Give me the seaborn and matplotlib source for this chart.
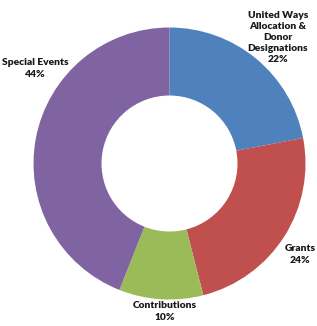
import matplotlib
matplotlib.use("Agg")
import matplotlib.pyplot as plt
import seaborn as sns

categories = ["United Ways\nAllocation &\nDonor\nDesignations", "Grants", "Contributions", "Special Events"]
values = [22, 24, 10, 44]
colors = ["#4F81BD", "#C0504D", "#9BBB59", "#8064A2"]

sns.set_theme(style="white")
plt.rcParams['font.family'] = ['Lato', 'DejaVu Sans']

W, H = 317, 326
fig = plt.figure(figsize=(W / 100, H / 100), dpi=100)
ax = fig.add_axes([0, 0, 1, 1])

cx, cy, R = 169.5, 326 - 163.5, 136
wedges, _ = ax.pie(values, colors=sns.color_palette(colors), startangle=90, counterclock=False,
                   center=(cx, cy), radius=R, frame=True,
                   wedgeprops=dict(width=R * 0.5, linewidth=0))
ax.set_xlim(0, W)
ax.set_ylim(0, H)
ax.set_aspect('equal')
ax.axis('off')

label_pos = [(278, 326 - 37.5), (300, 326 - 254.5), (165, 326 - 311.5), (35, 326 - 68.5)]
for cat, v, (x, y) in zip(categories, values, label_pos):
    ax.text(x, y, f"{cat}\n{v}%", ha='center', va='center', fontsize=7.4,
            fontweight='heavy', color='#1a1a1a', linespacing=1.3)

fig.savefig("out.png", dpi=100)
